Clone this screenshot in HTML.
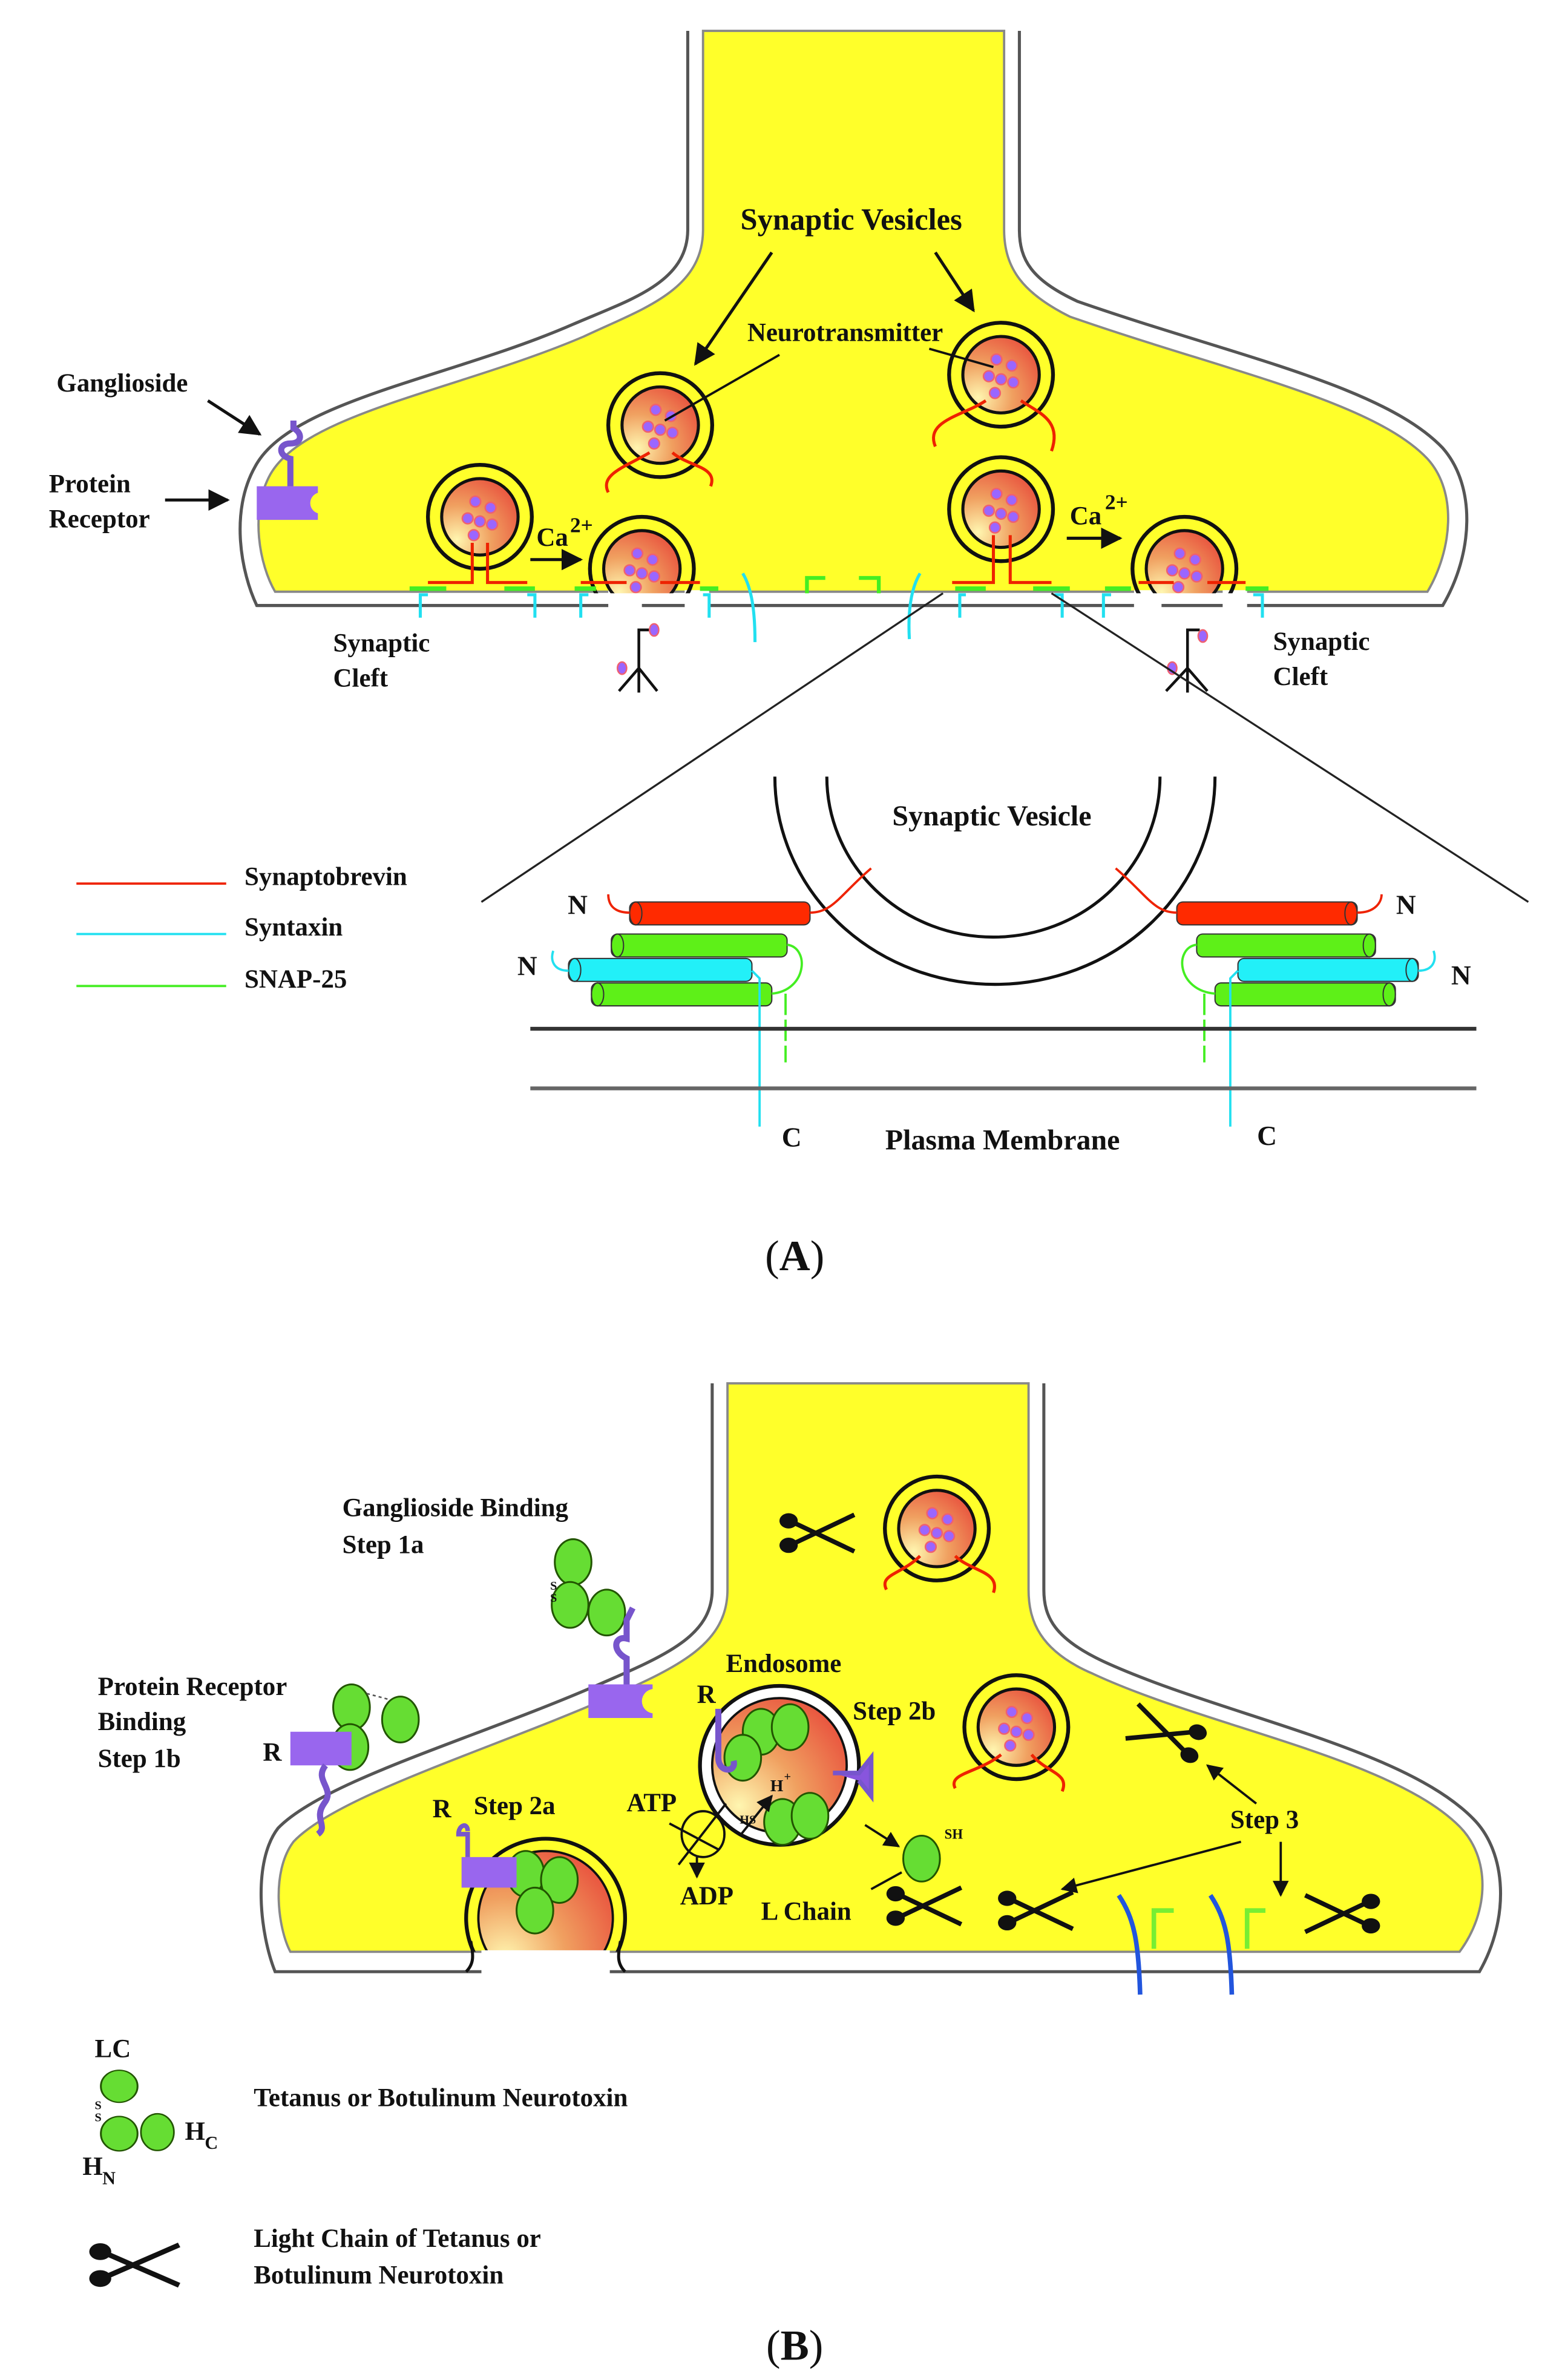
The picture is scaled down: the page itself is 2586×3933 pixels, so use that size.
<!DOCTYPE html>
<html><head><meta charset="utf-8"><style>
html,body{margin:0;padding:0;background:#fff}
svg{display:block}
text{font-family:"Liberation Serif",serif;font-weight:bold;fill:#111}
</style></head><body>
<svg width="2586" height="3933" viewBox="0 0 1024 1557" xmlns="http://www.w3.org/2000/svg">
<defs>
<radialGradient id="vg" cx="0.2" cy="0.8" r="1">
<stop offset="0" stop-color="#fff6b0"/><stop offset="0.45" stop-color="#f0a060"/><stop offset="1" stop-color="#e84a3a"/>
</radialGradient>
<marker id="ah" viewBox="0 0 10 10" refX="9" refY="5" markerWidth="7" markerHeight="7" orient="auto"><path d="M0,0 L10,5 L0,10 z" fill="#111"/></marker>
<g id="ves">
<circle r="34" fill="none" stroke="#111" stroke-width="2.5"/>
<circle r="25" fill="url(#vg)" stroke="#111" stroke-width="2"/>
<g fill="#9a66ff" stroke="#f06070" stroke-width="1">
<circle cx="-3" cy="-10" r="3.5"/><circle cx="7" cy="-6" r="3.5"/><circle cx="-8" cy="1" r="3.5"/><circle cx="0" cy="3" r="3.5"/><circle cx="8" cy="5" r="3.5"/><circle cx="-4" cy="12" r="3.5"/>
</g></g>
<g id="sc">
<line x1="-14" y1="-7" x2="26" y2="12" stroke="#111" stroke-width="3"/>
<line x1="-14" y1="7" x2="26" y2="-12" stroke="#111" stroke-width="3"/>
<ellipse cx="-17" cy="-8" rx="6" ry="5" fill="#111"/><ellipse cx="-17" cy="8" rx="6" ry="5" fill="#111"/>
</g>
<g id="tox"><ellipse rx="12" ry="15" fill="#66dd33" stroke="#225500" stroke-width="1.2"/></g>
</defs>

<!-- ================= PANEL A ================= -->
<path d="M450,20 L450,150 C450,185 412,196 375,212 C295,247 190,262 167,305 C150,335 158,375 168,396 L944,396 C964,362 966,318 944,293 C905,252 805,232 705,197 C675,183 667,170 667,150 L667,20" fill="none" stroke="#555" stroke-width="2"/>
<path d="M460,20 L460,150 C460,190 420,202 382,220 C300,255 200,270 177,310 C163,335 170,370 180,387 L934,387 C950,360 954,322 934,300 C898,262 800,242 700,207 C670,192 657,176 657,150 L657,20 Z" fill="#ffff2a" stroke="#888" stroke-width="1.5"/>
<line x1="168" y1="396" x2="944" y2="396" stroke="#555" stroke-width="2"/>
<rect x="398" y="386" width="22" height="14" fill="#fff"/><rect x="448" y="386" width="16" height="14" fill="#fff"/>
<rect x="742" y="386" width="18" height="14" fill="#fff"/><rect x="800" y="386" width="16" height="14" fill="#fff"/>

<use href="#ves" x="432" y="278"/>
<use href="#ves" x="655" y="245"/>
<use href="#ves" x="314" y="338"/>
<use href="#ves" x="655" y="333"/>
<clipPath id="cpA"><rect x="0" y="0" width="1024" height="388"/></clipPath>
<g clip-path="url(#cpA)"><use href="#ves" x="420" y="372"/><use href="#ves" x="775" y="372"/></g>
<g fill="none" stroke="#ee2200" stroke-width="2">
<path d="M425,296 C410,305 392,310 398,322"/><path d="M440,296 C450,305 470,305 465,318"/>
<path d="M645,262 C630,272 605,275 612,292"/><path d="M668,262 C680,270 695,275 688,295"/>
<path d="M309,355 L309,381 L280,381 M319,355 L319,381 L345,381"/>
<path d="M650,350 L650,381 L623,381 M661,350 L661,381 L688,381"/>
<path d="M380,381 L410,381 M432,381 L458,381"/><path d="M745,381 L768,381 M790,381 L815,381"/>
</g>
<g stroke="#44ee22" stroke-width="3">
<line x1="268" y1="385" x2="292" y2="385"/><line x1="330" y1="385" x2="350" y2="385"/><line x1="376" y1="385" x2="390" y2="385"/><line x1="458" y1="385" x2="470" y2="385"/>
<line x1="625" y1="385" x2="645" y2="385"/><line x1="676" y1="385" x2="700" y2="385"/><line x1="723" y1="385" x2="740" y2="385"/><line x1="815" y1="385" x2="830" y2="385"/>
</g>
<g fill="none" stroke="#44ee22" stroke-width="2.5"><path d="M540,378 L528,378 L528,388"/><path d="M562,378 L575,378 L575,388"/></g>
<g fill="none" stroke="#22e0f0" stroke-width="2">
<path d="M280,389 L275,389 L275,404 M345,389 L350,389 L350,404 M385,389 L380,389 L380,404 M460,389 L464,389 L464,404"/>
<path d="M632,389 L628,389 L628,404 M690,389 L695,389 L695,404 M727,389 L722,389 L722,404 M820,389 L826,389 L826,404"/>
<path d="M486,375 C492,385 494,400 494,420"/><path d="M602,375 C596,385 594,400 595,418"/>
</g>
<g stroke="#111" stroke-width="1.8" fill="none">
<path d="M418,453 L418,412 L425,412 M418,437 L405,452 M418,437 L430,452"/>
<path d="M777,453 L777,412 L785,412 M777,437 L763,452 M777,437 L790,452"/>
</g>
<g fill="#9a66ff" stroke="#f06070"><ellipse cx="428" cy="412" rx="3" ry="4"/><ellipse cx="407" cy="437" rx="3" ry="4"/><ellipse cx="787" cy="416" rx="3" ry="4"/><ellipse cx="767" cy="437" rx="3" ry="4"/></g>
<rect x="168" y="318" width="40" height="22" fill="#9966ee"/><circle cx="210" cy="329" r="7" fill="#ffff2a"/>
<path d="M190,318 L190,300 C182,298 182,290 190,290 C198,290 198,283 192,280 L192,275" fill="none" stroke="#7755cc" stroke-width="4"/>
<text x="557" y="150" font-size="20" text-anchor="middle">Synaptic Vesicles</text>
<line x1="505" y1="165" x2="455" y2="238" stroke="#111" stroke-width="2" marker-end="url(#ah)"/>
<line x1="612" y1="165" x2="637" y2="203" stroke="#111" stroke-width="2" marker-end="url(#ah)"/>
<text x="553" y="223" font-size="17" text-anchor="middle">Neurotransmitter</text>
<line x1="510" y1="232" x2="435" y2="275" stroke="#111" stroke-width="1.5"/>
<line x1="608" y1="228" x2="650" y2="240" stroke="#111" stroke-width="1.5"/>
<text x="37" y="256" font-size="17">Ganglioside</text>
<line x1="136" y1="262" x2="170" y2="284" stroke="#111" stroke-width="2" marker-end="url(#ah)"/>
<text x="32" y="322" font-size="17">Protein</text><text x="32" y="345" font-size="17">Receptor</text>
<line x1="108" y1="327" x2="149" y2="327" stroke="#111" stroke-width="2" marker-end="url(#ah)"/>
<text x="351" y="357" font-size="17">Ca</text><text x="373" y="348" font-size="14">2+</text>
<line x1="347" y1="366" x2="380" y2="366" stroke="#111" stroke-width="2" marker-end="url(#ah)"/>
<text x="700" y="343" font-size="17">Ca</text><text x="723" y="333" font-size="14">2+</text>
<line x1="698" y1="352" x2="733" y2="352" stroke="#111" stroke-width="2" marker-end="url(#ah)"/>
<text x="218" y="426" font-size="17">Synaptic</text><text x="218" y="449" font-size="17">Cleft</text>
<text x="833" y="425" font-size="17">Synaptic</text><text x="833" y="448" font-size="17">Cleft</text>
<line x1="50" y1="578" x2="148" y2="578" stroke="#ee2200" stroke-width="1.5"/><text x="160" y="579" font-size="17">Synaptobrevin</text>
<line x1="50" y1="611" x2="148" y2="611" stroke="#22e0f0" stroke-width="1.5"/><text x="160" y="612" font-size="17">Syntaxin</text>
<line x1="50" y1="645" x2="148" y2="645" stroke="#44ee22" stroke-width="1.5"/><text x="160" y="646" font-size="17">SNAP-25</text>
<line x1="617" y1="388" x2="315" y2="590" stroke="#222" stroke-width="1.3"/>
<line x1="688" y1="388" x2="1000" y2="590" stroke="#222" stroke-width="1.3"/>
<path d="M507,508 A143,135 0 0 0 795,508" fill="none" stroke="#111" stroke-width="2"/>
<path d="M541,508 A109,105 0 0 0 759,508" fill="none" stroke="#111" stroke-width="2"/>
<text x="649" y="540" font-size="19" text-anchor="middle">Synaptic Vesicle</text>
<g stroke="#333" stroke-width="0.8">
<rect x="412" y="590" width="118" height="15" rx="4" fill="#ff2a00"/>
<rect x="400" y="611" width="115" height="15" rx="4" fill="#5ef018"/>
<rect x="372" y="627" width="120" height="15" rx="4" fill="#22f0f8"/>
<rect x="387" y="643" width="118" height="15" rx="4" fill="#5ef018"/>
<rect x="770" y="590" width="118" height="15" rx="4" fill="#ff2a00"/>
<rect x="783" y="611" width="117" height="15" rx="4" fill="#5ef018"/>
<rect x="810" y="627" width="118" height="15" rx="4" fill="#22f0f8"/>
<rect x="795" y="643" width="118" height="15" rx="4" fill="#5ef018"/>
</g>
<g fill="none" stroke="#333" stroke-width="0.8">
<ellipse cx="416" cy="597.5" rx="4" ry="7.5"/><ellipse cx="404" cy="618.5" rx="4" ry="7.5"/><ellipse cx="376" cy="634.5" rx="4" ry="7.5"/><ellipse cx="391" cy="650.5" rx="4" ry="7.5"/>
<ellipse cx="884" cy="597.5" rx="4" ry="7.5"/><ellipse cx="896" cy="618.5" rx="4" ry="7.5"/><ellipse cx="924" cy="634.5" rx="4" ry="7.5"/><ellipse cx="909" cy="650.5" rx="4" ry="7.5"/>
</g>
<g fill="none" stroke-width="1.5">
<path d="M530,597 C545,597 550,585 570,568" stroke="#ee2200"/><path d="M770,597 C755,597 750,585 730,568" stroke="#ee2200"/>
<path d="M412,597 C400,597 398,590 398,585" stroke="#ee2200"/><path d="M888,597 C900,597 904,590 904,585" stroke="#ee2200"/>
<path d="M515,618 C530,620 528,648 505,650" stroke="#44ee22"/><path d="M783,618 C768,620 770,648 795,650" stroke="#44ee22"/>
<path d="M492,635 L497,640 L497,737" stroke="#22e0f0"/><path d="M810,635 L805,640 L805,737" stroke="#22e0f0"/>
<path d="M514,650 L514,695" stroke="#44ee22" stroke-dasharray="14,3"/><path d="M788,650 L788,695" stroke="#44ee22" stroke-dasharray="14,3"/>
<path d="M372,635 C362,635 360,628 362,622" stroke="#22e0f0"/><path d="M928,635 C938,635 940,628 938,622" stroke="#22e0f0"/>
</g>
<line x1="347" y1="673" x2="966" y2="673" stroke="#333" stroke-width="2.5"/>
<line x1="347" y1="712" x2="966" y2="712" stroke="#666" stroke-width="2.5"/>
<text x="378" y="598" font-size="18" text-anchor="middle">N</text>
<text x="920" y="598" font-size="18" text-anchor="middle">N</text>
<text x="345" y="638" font-size="18" text-anchor="middle">N</text>
<text x="956" y="644" font-size="18" text-anchor="middle">N</text>
<text x="518" y="750" font-size="18" text-anchor="middle">C</text>
<text x="829" y="749" font-size="18" text-anchor="middle">C</text>
<text x="656" y="752" font-size="19" text-anchor="middle">Plasma Membrane</text>
<text x="520" y="831" font-size="28" text-anchor="middle" style="font-weight:normal">(<tspan font-weight="bold">A</tspan>)</text>

<!-- ================= PANEL B ================= -->
<path d="M466,905 L466,1040 C466,1070 436,1083 392,1102 C312,1137 212,1165 182,1196 C165,1218 170,1265 180,1290 L968,1290 C988,1255 986,1212 964,1190 C918,1143 798,1122 722,1087 C690,1072 683,1058 683,1040 L683,905" fill="none" stroke="#555" stroke-width="2"/>
<path d="M476,905 L476,1040 C476,1075 445,1090 400,1110 C320,1145 220,1175 192,1205 C177,1225 182,1262 190,1277 L955,1277 C975,1250 975,1215 955,1195 C910,1150 790,1130 715,1095 C680,1080 673,1060 673,1040 L673,905 Z" fill="#ffff2a" stroke="#888" stroke-width="1.5"/>
<clipPath id="cpB"><rect x="0" y="900" width="1024" height="377"/></clipPath>
<g clip-path="url(#cpB)">
<circle cx="357" cy="1255" r="52" fill="none" stroke="#111" stroke-width="2.5"/>
<circle cx="357" cy="1255" r="44" fill="url(#vg)" stroke="#111" stroke-width="1.5"/>
</g>
<rect x="315" y="1276" width="84" height="18" fill="#fff"/>
<path d="M305,1290 C310,1285 310,1280 308,1270" fill="none" stroke="#111" stroke-width="2"/>
<path d="M409,1290 C404,1285 404,1280 406,1270" fill="none" stroke="#111" stroke-width="2"/>
<use href="#tox" x="344" y="1226"/><use href="#tox" x="366" y="1230"/><use href="#tox" x="350" y="1250"/>
<rect x="302" y="1215" width="36" height="20" fill="#9966ee"/>
<path d="M306,1215 L306,1200 L300,1200 C300,1194 306,1192 306,1198" fill="none" stroke="#7755cc" stroke-width="3"/>
<circle cx="510" cy="1155" r="52" fill="#fff" stroke="#111" stroke-width="2.5"/>
<circle cx="510" cy="1155" r="44" fill="url(#vg)" stroke="#111" stroke-width="1.5"/>
<use href="#tox" x="498" y="1133"/><use href="#tox" x="517" y="1130"/><use href="#tox" x="486" y="1150"/>
<use href="#tox" x="512" y="1192"/><use href="#tox" x="530" y="1188"/>
<path d="M470,1118 L470,1150 C470,1160 482,1160 480,1152" fill="none" stroke="#7755cc" stroke-width="4"/>
<path d="M545,1160 L562,1160 L570,1150 L570,1175 L562,1165" fill="#8855dd" stroke="#7755cc" stroke-width="3"/>
<text x="504" y="1172" font-size="11">H</text><text x="513" y="1165" font-size="8">+</text>
<text x="484" y="1193" font-size="8">HS</text>
<line x1="485" y1="1200" x2="505" y2="1175" stroke="#111" stroke-width="1.5" marker-end="url(#ah)"/>
<ellipse cx="460" cy="1200" rx="14" ry="15" fill="none" stroke="#111" stroke-width="1.5"/>
<line x1="438" y1="1193" x2="470" y2="1210" stroke="#111" stroke-width="1.5"/>
<line x1="444" y1="1220" x2="475" y2="1180" stroke="#111" stroke-width="1.5"/>
<line x1="456" y1="1215" x2="456" y2="1228" stroke="#111" stroke-width="1.5" marker-end="url(#ah)"/>
<use href="#ves" x="613" y="1000"/><use href="#ves" x="665" y="1130"/>
<g fill="none" stroke="#ee2200" stroke-width="2">
<path d="M602,1018 C590,1030 575,1030 580,1040"/><path d="M625,1018 C635,1028 655,1028 650,1042"/>
<path d="M655,1148 C640,1160 620,1160 625,1170"/><path d="M675,1148 C685,1160 700,1160 695,1172"/>
</g>
<use href="#sc" transform="translate(533,1003)"/>
<use href="#sc" transform="translate(765,1135) rotate(200)"/>
<use href="#sc" transform="translate(603,1247)"/>
<use href="#sc" transform="translate(676,1250)"/>
<use href="#sc" transform="translate(880,1252) rotate(180)"/>
<g fill="none" stroke="#2255dd" stroke-width="3">
<path d="M732,1240 C742,1255 745,1270 746,1305"/><path d="M792,1240 C802,1255 805,1270 806,1305"/>
</g>
<g fill="none" stroke="#77ee33" stroke-width="3">
<path d="M768,1250 L755,1250 L755,1275"/><path d="M828,1250 L816,1250 L816,1275"/>
</g>
<use href="#tox" x="603" y="1216"/>
<text x="618" y="1203" font-size="9">SH</text>
<line x1="566" y1="1194" x2="588" y2="1208" stroke="#111" stroke-width="1.5" marker-end="url(#ah)"/>
<line x1="570" y1="1236" x2="590" y2="1225" stroke="#111" stroke-width="1.5"/>
<line x1="822" y1="1180" x2="790" y2="1155" stroke="#111" stroke-width="1.5" marker-end="url(#ah)"/>
<line x1="812" y1="1205" x2="695" y2="1236" stroke="#111" stroke-width="1.5" marker-end="url(#ah)"/>
<line x1="838" y1="1205" x2="838" y2="1240" stroke="#111" stroke-width="1.5" marker-end="url(#ah)"/>
<use href="#tox" x="375" y="1022"/><use href="#tox" x="373" y="1050"/><use href="#tox" x="397" y="1055"/>
<text x="360" y="1040" font-size="8">S</text><text x="360" y="1048" font-size="8">S</text>
<path d="M410,1102 L410,1085 C400,1080 402,1070 410,1072 L410,1060 L414,1052" fill="none" stroke="#7755cc" stroke-width="4"/>
<rect x="385" y="1102" width="42" height="22" fill="#9966ee"/><circle cx="428" cy="1113" r="8" fill="#ffff2a"/>
<use href="#tox" x="230" y="1117"/><use href="#tox" x="262" y="1125"/><use href="#tox" x="229" y="1143"/>
<path d="M240,1108 L255,1112" stroke="#555" stroke-dasharray="2,2"/>
<rect x="190" y="1133" width="40" height="22" fill="#9966ee"/>
<path d="M213,1155 C205,1165 220,1170 212,1180 C205,1190 215,1195 208,1200" fill="none" stroke="#7755cc" stroke-width="4"/>
<text x="224" y="992" font-size="17">Ganglioside Binding</text><text x="224" y="1016" font-size="17">Step 1a</text>
<text x="64" y="1109" font-size="17">Protein Receptor</text><text x="64" y="1132" font-size="17">Binding</text><text x="64" y="1156" font-size="17">Step 1b</text>
<text x="172" y="1152" font-size="17">R</text>
<text x="475" y="1094" font-size="17">Endosome</text>
<text x="456" y="1114" font-size="17">R</text>
<text x="558" y="1125" font-size="17">Step 2b</text>
<text x="283" y="1189" font-size="17">R</text><text x="310" y="1187" font-size="17">Step 2a</text>
<text x="410" y="1185" font-size="17">ATP</text>
<text x="445" y="1246" font-size="17">ADP</text>
<text x="498" y="1256" font-size="17">L Chain</text>
<text x="805" y="1196" font-size="17">Step 3</text>
<text x="62" y="1346" font-size="17">LC</text>
<use href="#tox" transform="translate(78,1365) scale(1,0.7)"/>
<use href="#tox" transform="translate(78,1396) scale(1,0.75)"/>
<use href="#tox" transform="translate(103,1395) scale(0.9,0.8)"/>
<text x="62" y="1380" font-size="8">S</text><text x="62" y="1388" font-size="8">S</text>
<text x="121" y="1400" font-size="17">H</text><text x="134" y="1406" font-size="12">C</text>
<text x="54" y="1423" font-size="17">H</text><text x="67" y="1429" font-size="12">N</text>
<text x="166" y="1378" font-size="17">Tetanus or Botulinum Neurotoxin</text>
<use href="#sc" transform="translate(86,1482) scale(1.2,1.1)"/>
<text x="166" y="1470" font-size="17">Light Chain of Tetanus or</text>
<text x="166" y="1494" font-size="17">Botulinum Neurotoxin</text>
<text x="520" y="1544" font-size="28" text-anchor="middle" style="font-weight:normal">(<tspan font-weight="bold">B</tspan>)</text>
</svg>
</body></html>
